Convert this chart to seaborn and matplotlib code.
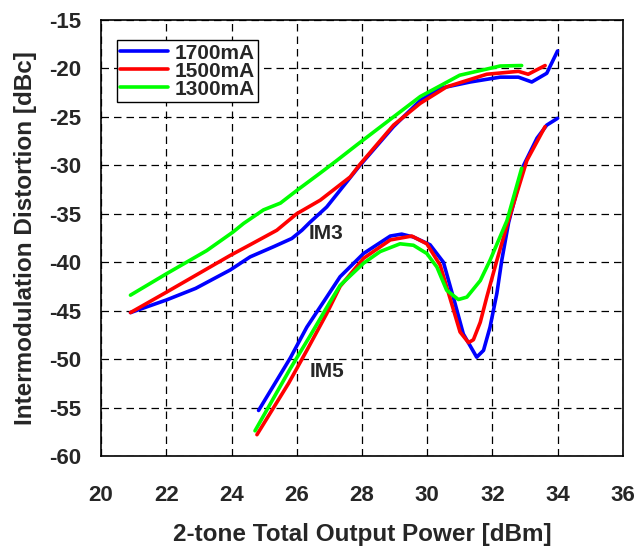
import matplotlib
matplotlib.use("Agg")
import matplotlib.pyplot as plt
import seaborn as sns

# ---- data ----
blue_im3_x = [20.9, 22.0, 22.9, 23.96, 24.57, 25.29, 25.85, 26.16, 26.4, 26.92, 27.94, 28.25, 28.97, 29.79, 30.4, 31.32, 32.24, 32.8, 33.21, 33.67, 34.0]
blue_im3_y = [-45.2, -43.9, -42.7, -40.8, -39.45, -38.4, -37.55, -36.7, -35.9, -34.3, -30.0, -28.8, -26.0, -23.3, -22.05, -21.4, -20.9, -20.9, -21.4, -20.5, -18.2]

red_im3_x = [20.9, 22.0, 23.96, 24.57, 25.39, 26.0, 26.72, 27.64, 27.94, 28.97, 29.79, 30.6, 31.83, 32.8, 33.1, 33.62]
red_im3_y = [-45.2, -43.1, -39.3, -38.2, -36.7, -35.0, -33.6, -31.2, -29.9, -25.85, -23.6, -21.9, -20.6, -20.3, -20.6, -19.7]

green_im3_x = [20.9, 22.0, 23.24, 24.04, 24.37, 24.98, 25.5, 26.0, 26.72, 27.23, 27.84, 28.97, 29.79, 31.0, 32.24, 32.9]
green_im3_y = [-43.4, -41.2, -38.8, -36.9, -36.0, -34.6, -33.9, -32.6, -30.8, -29.5, -27.9, -25.0, -22.9, -20.7, -19.75, -19.7]

blue_im5_x = [24.83, 25.8, 26.31, 26.92, 27.33, 28.05, 28.87, 29.22, 29.58, 30.09, 30.5, 30.86, 31.11, 31.52, 31.73, 31.93, 32.14, 32.29, 32.5, 32.96, 33.37, 33.67, 34.0]
blue_im5_y = [-55.3, -49.9, -46.7, -43.6, -41.5, -39.1, -37.3, -37.1, -37.4, -38.2, -40.0, -44.3, -47.4, -49.8, -49.1, -46.7, -43.2, -39.8, -35.9, -30.0, -27.2, -25.85, -25.15]

red_im5_x = [24.78, 25.75, 26.31, 26.92, 27.33, 28.05, 28.87, 29.53, 29.99, 30.4, 30.71, 31.01, 31.27, 31.42, 31.63, 31.83, 32.14, 32.45, 33.06, 33.62]
red_im5_y = [-57.8, -52.5, -49.1, -45.3, -42.5, -39.6, -37.7, -37.3, -38.1, -40.3, -43.8, -47.2, -48.3, -48.0, -46.2, -43.6, -39.8, -36.2, -29.5, -26.0]

green_im5_x = [24.72, 25.8, 26.41, 27.02, 27.33, 28.05, 28.56, 29.17, 29.58, 29.99, 30.3, 30.6, 30.96, 31.22, 31.63, 31.93, 32.45, 32.9]
green_im5_y = [-57.4, -51.0, -47.6, -44.1, -42.4, -40.1, -38.9, -38.1, -38.25, -39.1, -40.5, -42.9, -43.85, -43.6, -41.9, -39.8, -35.7, -30.3]

series_labels = ["1700mA", "1500mA", "1300mA"]
series_colors = ["#0000ff", "#ff0000", "#00ff00"]

x_ticks = [20, 22, 24, 26, 28, 30, 32, 34, 36]
y_ticks = [-60, -55, -50, -45, -40, -35, -30, -25, -20, -15]

# ---- style ----
sns.set_style("white")
plt.rcParams['font.family'] = ['Liberation Sans', 'DejaVu Sans']
plt.rcParams['font.weight'] = 'bold'

fig = plt.figure(figsize=(6.4, 5.49), dpi=100)
ax = fig.add_axes([0.158, 0.1694, 0.815, 0.7942])

lw = 2.6
im3 = [(blue_im3_x, blue_im3_y), (red_im3_x, red_im3_y), (green_im3_x, green_im3_y)]
im5 = [(blue_im5_x, blue_im5_y), (red_im5_x, red_im5_y), (green_im5_x, green_im5_y)]
for (x, y), lab, col in zip(im3, series_labels, series_colors):
    sns.lineplot(x=x, y=y, ax=ax, color=col, linewidth=lw, label=lab, sort=False, zorder=3)
for (x, y), col in zip(im5, series_colors):
    sns.lineplot(x=x, y=y, ax=ax, color=col, linewidth=lw, sort=False, zorder=3)

ax.set_xlim(20, 36)
ax.set_ylim(-60, -15)
ax.set_xticks(x_ticks)
ax.set_yticks(y_ticks)
ax.set_xticklabels([str(t) for t in x_ticks], fontsize=16, fontweight='bold')
ax.set_yticklabels([str(t) for t in y_ticks], fontsize=16, fontweight='bold')
ax.tick_params(axis='both', direction='in', length=5, width=1, color='black')
ax.tick_params(axis='x', pad=21)
ax.tick_params(axis='y', pad=14)
ax.grid(True, color='black', linestyle=(0, (6, 4)), linewidth=0.9)
for sp in ax.spines.values():
    sp.set_color('black')
    sp.set_linewidth(1.2)

ax.set_xlabel("2-tone Total Output Power [dBm]", fontsize=17.5, fontweight='bold', labelpad=12)
ax.set_ylabel("Intermodulation Distortion [dBc]", fontsize=17.5, fontweight='bold', labelpad=9)

ax.text(26.9, -37.0, "IM3", fontsize=15, fontweight='bold', ha='center', va='center')
ax.text(26.92, -51.3, "IM5", fontsize=15, fontweight='bold', ha='center', va='center')

leg = ax.legend(loc='upper left', bbox_to_anchor=(0.031, 0.953), fontsize=15, frameon=True,
                fancybox=False, edgecolor='black', framealpha=1, handlelength=2.3,
                handletextpad=0.3, borderpad=0.15, labelspacing=-0.05, borderaxespad=0)
leg.get_frame().set_linewidth(1.0)
for t in leg.get_texts():
    t.set_fontweight('bold')

fig.savefig("out.png", dpi=100)
